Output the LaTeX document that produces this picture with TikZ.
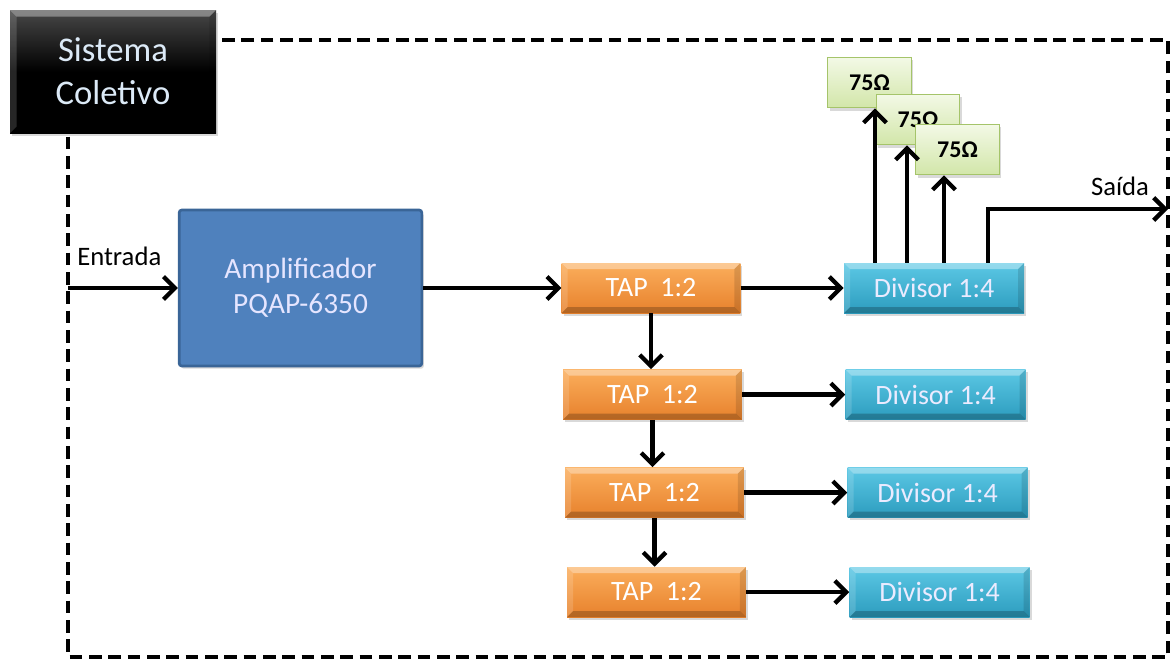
\documentclass[tikz,border=0pt]{standalone}
\usepackage{fontspec}
\setmainfont{Carlito}
\usetikzlibrary{arrows.meta,shadows,calc}
\definecolor{tapT}{HTML}{FBAE5C}
\definecolor{tapB}{HTML}{E7812C}
\definecolor{divT}{HTML}{5CC8E5}
\definecolor{divB}{HTML}{2C9CBE}
\definecolor{ohmT}{HTML}{F3F9E6}
\definecolor{ohmB}{HTML}{D2E6A9}
\definecolor{ohmD}{HTML}{A5C46A}
\definecolor{ampF}{HTML}{4F81BD}
\definecolor{ampD}{HTML}{3A6597}
\definecolor{sysT}{HTML}{DCEAF7}
\begin{document}
\begin{tikzpicture}[x=0.75pt,y=-0.75pt,
  bevel/.style={path picture={
    \path (path picture bounding box.north west) coordinate (bvnw)
          (path picture bounding box.north east) coordinate (bvne)
          (path picture bounding box.south west) coordinate (bvsw)
          (path picture bounding box.south east) coordinate (bvse);
    \fill[white,opacity=.35] (bvnw) -- (bvne) -- ([shift={(-#1,-#1)}]bvne) -- ([shift={(#1,-#1)}]bvnw) -- cycle;
    \fill[black,opacity=.22] (bvsw) -- (bvse) -- ([shift={(-#1,#1)}]bvse) -- ([shift={(#1,#1)}]bvsw) -- cycle;
    \fill[white,opacity=.15] (bvnw) -- ([shift={(#1,-#1)}]bvnw) -- ([shift={(#1,#1)}]bvsw) -- (bvsw) -- cycle;
    \fill[black,opacity=.12] (bvne) -- ([shift={(-#1,-#1)}]bvne) -- ([shift={(-#1,#1)}]bvse) -- (bvse) -- cycle;
  }},
  shad/.style={drop shadow={opacity=0.3,shadow xshift=1.5pt,shadow yshift=-2pt}},
  tap/.style={shad,top color=tapT,bottom color=tapB,bevel=4.5pt,inner sep=0pt,
    minimum width=134pt,minimum height=37.5pt,text=white,font=\fontsize{21}{25}\selectfont},
  div/.style={shad,top color=divT,bottom color=divB,bevel=4.5pt,inner sep=0pt,
    minimum width=135pt,minimum height=37.5pt,text=white!92!blue,font=\fontsize{21}{25}\selectfont},
  ohm/.style={shad,top color=ohmT,bottom color=ohmB,draw=ohmD,line width=0.8pt,inner sep=0pt,
    minimum width=62.5pt,minimum height=38pt,font=\bfseries\fontsize{18}{21}\selectfont},
  arr/.style={line width=3.2pt,-{Straight Barb[length=8.5pt,width=17pt]}},
  lbl/.style={font=\fontsize{20}{24}\selectfont,inner sep=0pt}
]
\useasboundingbox (0,0) rectangle (1171,661);
% frame
\draw[line width=3pt,dash pattern=on 9.5pt off 5pt] (68,40) rectangle (1168,657);
% system label box
\node[shad,top color=black!72,bottom color=black,middle color=black,bevel=5pt,inner sep=0pt,
  minimum width=154.5pt,minimum height=92.25pt,align=center,text=sysT,
  font=\fontsize{26}{32}\selectfont] (sys) at (113,71.5) {Sistema\\Coletivo};
% amplifier
\node[shad,fill=ampF,draw=ampD,line width=2pt,rounded corners=2pt,inner sep=0pt,
  minimum width=182pt,minimum height=117pt,align=center,text=white!90!blue,
  font=\fontsize{22}{26.5}\selectfont] (amp) at (300.5,288) {Amplificador\\PQAP-6350};
% taps
\node[tap] (t1) at (651,288) {TAP\ \ 1:2};
\node[tap] (t2) at (652.5,394.5) {TAP\ \ 1:2};
\node[tap] (t3) at (654.5,492.5) {TAP\ \ 1:2};
\node[tap] (t4) at (656.5,592) {TAP\ \ 1:2};
% dividers
\node[div] (d1) at (934,288) {Divisor 1:4};
\node[div] (d2) at (935.5,394.5) {Divisor 1:4};
\node[div] (d3) at (937.5,492.5) {Divisor 1:4};
\node[div] (d4) at (939.5,592) {Divisor 1:4};
% 75 ohm loads
\node[ohm] (o1) at (869.5,82.5) {75Ω};
\node[ohm] (o2) at (918,119.5) {75Ω};
\node[ohm] (o3) at (957.5,149.5) {75Ω};
% labels
\node[lbl,anchor=west] (ent) at (77,256) {Entrada};
\node[lbl] (sai) at (1120,186) {Saída};
% coordinates
\coordinate (in) at (68,288);
\coordinate (out) at (1168,209);
\coordinate (c1) at (875,0);
\coordinate (c2) at (907,0);
\coordinate (c3) at (944,0);
\coordinate (c4) at (988,0);
% connectors
\draw[arr] (in) -- (amp.west |- in);
\draw[arr] (amp.east |- t1) -- (t1.west);
\draw[arr] (t1.south) -- (t1.south |- t2.north);
\draw[arr] (t2.south) -- (t2.south |- t3.north);
\draw[arr] (t3.south) -- (t3.south |- t4.north);
\draw[arr] (t1.east) -- (d1.west);
\draw[arr] (t2.east) -- (d2.west);
\draw[arr] (t3.east) -- (d3.west);
\draw[arr] (t4.east) -- (d4.west);
\draw[arr] (c1 |- d1.north) -- (c1 |- o1.south);
\draw[arr] (c2 |- d1.north) -- (c2 |- o2.south);
\draw[arr] (c3 |- d1.north) -- (c3 |- o3.south);
\draw[arr] (c4 |- d1.north) -- (c4 |- out) -- (out);
\end{tikzpicture}
\end{document}
